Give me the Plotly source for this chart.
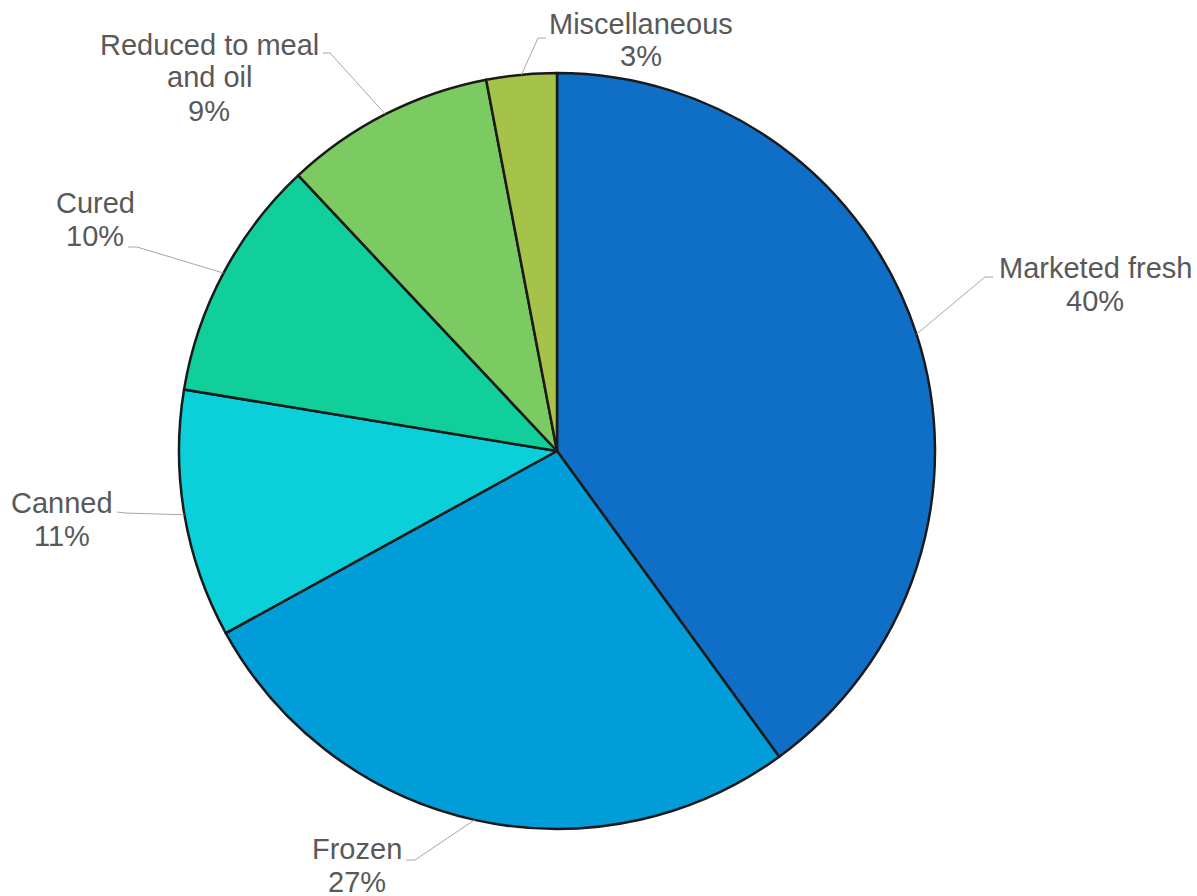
import math
import plotly.graph_objects as go

# ---- data ----
categories = ["Marketed fresh", "Frozen", "Canned", "Cured", "Reduced to meal and oil", "Miscellaneous"]
values = [40, 27, 10.6, 10.4, 9, 3]
label_lines = [["Marketed fresh"], ["Frozen"], ["Canned"], ["Cured"], ["Reduced to meal", "and oil"], ["Miscellaneous"]]

# ---- style / layout ----
colors = ["#0F6FC6", "#009DD9", "#0BD0D9", "#10CF9B", "#7CCA62", "#A5C249"]
W, H = 1197, 896
CX, CY, R = 557, 451, 378
FONT = "Liberation Sans, Arial, sans-serif"
TEXT_COLOR = "#595959"
FS = 29
LINE_GAP = 33
# label text centre (first line), leader elbow, leader tail end (pixels)
label_layout = [
    dict(tx=1095, ty=268, ex=985, ey=277, ux=993, uy=277),
    dict(tx=357, ty=849, ex=415, ey=860, ux=406, uy=860),
    dict(tx=62, ty=503, ex=125, ey=513, ux=117, uy=512),
    dict(tx=95, ty=203, ex=137, ey=247, ux=128, uy=247),
    dict(tx=209, ty=44.5, ex=330, ey=53, ux=323, uy=53),
    dict(tx=640.5, ty=23.5, ex=538, ey=38, ux=546, uy=38),
]


def px(x):
    return x / W


def py(y):
    return 1 - y / H


fig = go.Figure(go.Pie(
    labels=categories,
    values=values,
    sort=False,
    direction="clockwise",
    rotation=0,
    textinfo="none",
    hoverinfo="label+percent",
    marker=dict(colors=colors, line=dict(color="#1a1a1a", width=2.5)),
    domain=dict(x=[px(CX - R), px(CX + R)], y=[py(CY + R), py(CY - R)]),
    showlegend=False,
))

total = sum(values)
cum = 0
shapes = []
annotations = []
for i, v in enumerate(values):
    mid = (cum + v / 2) / total * 2 * math.pi
    cum += v
    sx = CX + R * math.sin(mid)
    sy = CY - R * math.cos(mid)
    L = label_layout[i]
    path = f"M {px(sx)},{py(sy)} L {px(L['ex'])},{py(L['ey'])} L {px(L['ux'])},{py(L['uy'])}"
    shapes.append(dict(type="path", xref="paper", yref="paper", path=path,
                       line=dict(color="#A6A6A6", width=1)))
    lines = label_lines[i] + [f"{round(v / total * 100)}%"]
    for j, t in enumerate(lines):
        annotations.append(dict(
            x=px(L["tx"]), y=py(L["ty"] + j * LINE_GAP), xref="paper", yref="paper",
            text=t, showarrow=False, xanchor="center", yanchor="middle",
            font=dict(family=FONT, size=FS, color=TEXT_COLOR),
        ))

fig.update_layout(
    width=W, height=H,
    margin=dict(l=0, r=0, t=0, b=0),
    paper_bgcolor="white", plot_bgcolor="white",
    shapes=shapes, annotations=annotations,
)

fig.write_html("out.html", config={"displayModeBar": False},
               post_script="document.body.style.margin='0';document.body.style.overflow='hidden';")
